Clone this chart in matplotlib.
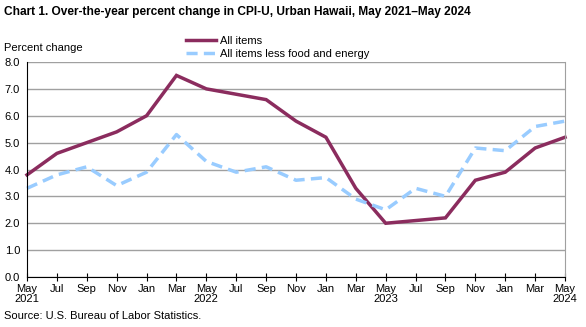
#!/usr/bin/env python3
# -*- coding: utf-8 -*-
#
# Over-the-year percent change in CPI-U, Urban Hawaii.

import numpy as np
import matplotlib
matplotlib.use("Agg")
import matplotlib.pyplot as plt

plt.rcParams['font.family'] = ['Liberation Sans', 'DejaVu Sans']

months = ["May", "Jul", "Sep", "Nov", "Jan", "Mar",
          "May", "Jul", "Sep", "Nov", "Jan", "Mar",
          "May", "Jul", "Sep", "Nov", "Jan", "Mar", "May"]
years = {0: "2021", 6: "2022", 12: "2023", 18: "2024"}

all_items = [3.8, 4.6, 5.0, 5.4, 6.0, 7.5, 7.0, 6.8, 6.6, 5.8,
             5.2, 3.3, 2.0, 2.1, 2.2, 3.6, 3.9, 4.8, 5.2]
core = [3.3, 3.8, 4.1, 3.4, 3.9, 5.3, 4.3, 3.9, 4.1, 3.6,
        3.7, 2.9, 2.5, 3.3, 3.0, 4.8, 4.7, 5.6, 5.8]

x = np.arange(len(months))

fig = plt.figure(figsize=(5.86, 3.27), dpi=100)
ax = fig.add_axes([0.0461, 0.1529, 0.9181, 0.6575])

# Grid lines and spines.
ax.set_ylim(0, 8)
ax.set_xlim(0, len(months) - 1)
ax.set_yticks(np.arange(0, 9, 1))
ax.set_yticklabels(["%.1f" % v for v in np.arange(0, 9, 1)], fontsize=8)
ax.yaxis.grid(True, color='#a0a0a0', linewidth=1)
ax.set_axisbelow(True)
ax.tick_params(axis='y', length=0, pad=5)
ax.spines['top'].set_visible(False)
ax.spines['right'].set_color('#a0a0a0')
ax.spines['left'].set_color('black')
ax.spines['bottom'].set_color('black')

labels = [m + ("\n" + years[i] if i in years else "") for i, m in enumerate(months)]
ax.set_xticks(x)
ax.set_xticklabels(labels, fontsize=8, linespacing=1.05, va='top')
ax.tick_params(axis='x', direction='inout', length=6, pad=2, color='black')

h1, = ax.plot(x, all_items, color='#8b2c5e', linewidth=2.5, solid_joinstyle='miter',
              clip_on=False)
h2, = ax.plot(x, core, color='#99ccff', linewidth=2.5, dashes=(3.2, 1.8), clip_on=False)

fig.legend([h1, h2], ["All items", "All items less food and energy"],
           loc='upper left', bbox_to_anchor=(0.318, 0.89), frameon=False,
           fontsize=8, handlelength=2.7, handletextpad=0.3, labelspacing=0.25,
           borderpad=0, borderaxespad=0)

fig.text(0.006, 0.962, "Chart 1. Over-the-year percent change in CPI-U, Urban Hawaii, May 2021\u2013May 2024",
         fontsize=8.55, fontweight='bold', va='center', ha='left')
fig.text(0.006, 0.853, "Percent change", fontsize=8, va='center', ha='left')
fig.text(0.006, 0.033, "Source: U.S. Bureau of Labor Statistics.", fontsize=8,
         va='center', ha='left')

plt.savefig("out.png", dpi=100)
